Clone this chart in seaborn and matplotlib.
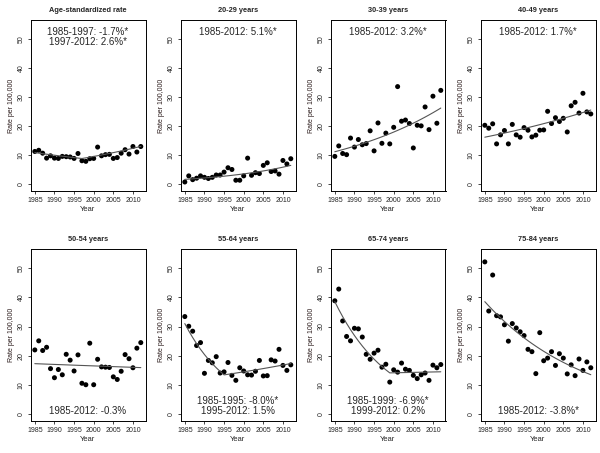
import numpy as np
import pandas as pd
import seaborn as sns
import matplotlib
matplotlib.use('Agg')
import matplotlib.pyplot as plt

years = list(range(1985, 2013))

# observed rates per 100,000
asr = [11.3, 11.7, 10.7, 9.0, 9.8, 9.0, 8.9, 9.6, 9.5, 9.4, 8.9, 10.6, 8.1, 7.9,
       8.8, 8.9, 12.8, 9.8, 10.2, 10.3, 8.9, 9.2, 10.7, 11.9, 10.4, 13.0, 11.1, 13.0]
age_20_29 = [0.8, 2.9, 1.6, 2.1, 2.9, 2.4, 2.0, 2.4, 3.2, 3.2, 4.2, 5.7, 5.1, 1.4,
             1.4, 2.9, 9.0, 3.1, 4.0, 3.7, 6.5, 7.4, 4.4, 4.6, 3.5, 8.2, 7.0, 8.8]
age_30_39 = [9.6, 13.2, 10.6, 10.2, 15.9, 12.8, 15.4, 13.6, 14.0, 18.4, 11.5, 21.1, 14.1, 17.6,
             13.9, 19.6, 33.6, 21.7, 22.1, 20.9, 12.5, 20.3, 20.1, 26.6, 18.8, 30.3, 21.0, 32.3]
age_40_49 = [20.3, 19.3, 20.8, 13.9, 17.0, 18.5, 13.9, 20.6, 17.0, 16.2, 19.5, 18.6, 16.3, 16.9,
             18.6, 18.7, 25.1, 20.9, 22.9, 21.6, 22.7, 18.0, 27.0, 28.2, 24.5, 31.3, 24.9, 24.2]
age_50_54 = [22.0, 25.1, 21.8, 22.9, 15.6, 12.5, 15.3, 13.5, 20.5, 18.5, 14.8, 20.3, 10.6, 10.1,
             24.3, 10.1, 18.8, 16.2, 16.1, 16.0, 12.8, 11.9, 14.7, 20.4, 19.0, 15.9, 22.6, 24.5]
age_55_64 = [33.4, 30.1, 28.4, 23.5, 24.5, 14.0, 18.4, 17.6, 19.7, 14.1, 14.5, 17.7, 13.3, 11.6,
             15.9, 14.8, 13.5, 13.4, 14.7, 18.4, 13.1, 13.2, 18.6, 18.2, 22.2, 16.7, 15.0, 16.9]
age_65_74 = [38.8, 42.8, 31.9, 26.6, 25.1, 29.4, 29.2, 26.4, 20.5, 18.8, 20.9, 21.9, 16.1, 17.1,
             11.0, 15.2, 14.4, 17.5, 15.4, 15.0, 13.3, 12.2, 13.5, 14.1, 11.6, 16.8, 15.9, 17.0]
age_75_84 = [52.1, 35.3, 47.6, 33.7, 33.3, 30.6, 25.0, 31.0, 29.5, 28.2, 26.9, 22.2, 21.4, 13.9,
             27.9, 18.3, 19.2, 21.4, 16.7, 20.7, 19.2, 13.8, 16.9, 13.2, 18.9, 15.0, 17.9, 15.9]

titles = ['Age-standardized rate', '20-29 years', '30-39 years', '40-49 years',
          '50-54 years', '55-64 years', '65-74 years', '75-84 years']
series = [asr, age_20_29, age_30_39, age_40_49, age_50_54, age_55_64, age_65_74, age_75_84]

# joinpoint fits: value at 1985, segment start years, annual percent changes
fit_start = [10.9, 1.7, 11.2, 16.2, 17.3, 31.0, 38.5, 38.5]
fit_joins = [[1985, 1997], [1985], [1985], [1985], [1985], [1985, 1995], [1985, 1999], [1985]]
fit_apc = [[-1.7, 2.6], [5.1], [3.2], [1.7], [-0.3], [-8.0, 1.5], [-6.9, 0.2], [-3.8]]
labels = ['1985-1997: -1.7%*\n1997-2012: 2.6%*', '1985-2012: 5.1%*', '1985-2012: 3.2%*',
          '1985-2012: 1.7%*', '1985-2012: -0.3%', '1985-1995: -8.0%*\n1995-2012: 1.5%',
          '1985-1999: -6.9%*\n1999-2012: 0.2%', '1985-2012: -3.8%*']


def joinpoint_curve(start, joins, apcs):
    vals = []
    v = start
    for y in years:
        seg = sum(1 for j in joins if y > j) - 1
        if y > years[0]:
            v = v * (1 + apcs[max(seg, 0)] / 100)
        vals.append(v)
    return vals


sns.set_style('ticks')
plt.rcParams['font.family'] = ['Liberation Sans', 'DejaVu Sans']

fig = plt.figure(figsize=(6, 4.53), dpi=100)
W, H = 600, 453

for i in range(8):
    row, col = divmod(i, 4)
    left = 30.5 + 150 * col
    top = 20 if row == 0 else 249
    bottom = 191 if row == 0 else 421
    ax = fig.add_axes([left / W, 1 - bottom / H, 115 / W, (bottom - top) / H])

    df = pd.DataFrame({'Year': years, 'Rate': series[i],
                       'Fit': joinpoint_curve(fit_start[i], fit_joins[i], fit_apc[i])})
    sns.lineplot(data=df, x='Year', y='Fit', ax=ax, color='#555555', lw=0.8)
    sns.scatterplot(data=df, x='Year', y='Rate', ax=ax, color='black', s=13,
                    edgecolor='none')

    ax.set_xlim(1983.9, 2013.2)
    ax.set_ylim(-2.3, 56.5)
    ax.set_xticks(range(1985, 2011, 5))
    ax.set_yticks(range(0, 51, 10))
    ax.tick_params(axis='both', labelsize=5, length=2.5, width=0.6, pad=1.5)
    for lab in ax.get_yticklabels():
        lab.set_rotation(90)
        lab.set_va('center')
    for s in ax.spines.values():
        s.set_visible(True)
        s.set_linewidth(0.7)
        s.set_color('black')
    ax.set_xlabel('Year', fontsize=5.5, labelpad=2)
    ax.set_ylabel('Rate per 100,000', fontsize=5, labelpad=2, color='#2a1a1a')
    ax.set_title(titles[i], fontsize=5.3, fontweight='bold', pad=6)

    if row == 0:
        ax.text(0.5, 0.96, labels[i], transform=ax.transAxes, ha='center', va='top',
                fontsize=7, linespacing=1.0)
    else:
        ax.text(0.5, 0.03, labels[i], transform=ax.transAxes, ha='center', va='bottom',
                fontsize=7, linespacing=1.0)

fig.savefig('out.png', dpi=100)
